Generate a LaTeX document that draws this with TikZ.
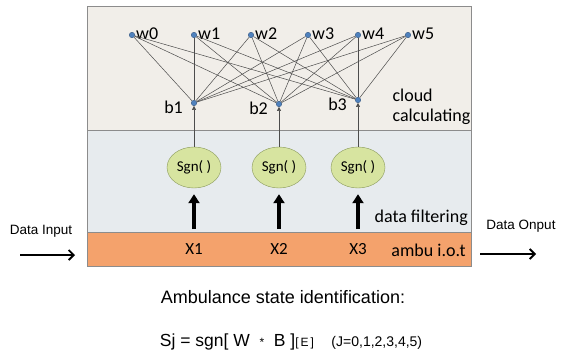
\documentclass[tikz,border=0pt]{standalone}
\usepackage{fontspec}
\setmainfont{Carlito}
\newfontfamily\arialfont{Liberation Sans}
\usetikzlibrary{arrows.meta,shapes.geometric}
\definecolor{CloudFill}{HTML}{F1EEE9}
\definecolor{FilterFill}{HTML}{E7EBEE}
\definecolor{IotFill}{HTML}{F4A26C}
\definecolor{SgnFill}{HTML}{D7E4A0}
\definecolor{SgnEdge}{HTML}{8A9A5B}
\definecolor{DotBlue}{HTML}{4F81BD}
\definecolor{FrameGray}{HTML}{8C8C8C}

\begin{document}
\begin{tikzpicture}[x=1pt,y=-1pt, every node/.style={font=\fontsize{18}{21}\selectfont},
  wdot/.style={circle, fill=DotBlue, draw=DotBlue!70!black, inner sep=0pt, minimum size=5.5pt},
  sgnnode/.style={ellipse, fill=SgnFill, draw=SgnEdge, minimum width=54pt, minimum height=41pt, inner sep=0pt, font=\fontsize{15}{17}\selectfont},
  link/.style={draw=black!70, line width=0.5pt},
  feed/.style={-{Triangle[length=9pt,width=11pt]}, line width=3.8pt},
  flow/.style={-{Straight Barb[length=5pt,width=10pt]}, line width=1.8pt}]
  \useasboundingbox (0,0) rectangle (563,356);
  \fill[white] (0,0) rectangle (563,356);
  % three layers
  \draw[FrameGray, fill=CloudFill] (87,6) rectangle (471,130);
  \draw[FrameGray, fill=FilterFill] (87,130) rectangle (471,232);
  \draw[FrameGray, fill=IotFill] (87,232) rectangle (471,266);
  % weights and biases
  \foreach \i/\x in {0/132,1/194,2/251,3/308,4/358,5/408} {
    \node[wdot] (w\i) at (\x,35) {};
    \node[anchor=west, inner sep=1pt, yshift=1pt] at (w\i.east) {w\i};
  }
  \foreach \j/\x/\y in {1/194/103,2/279/104,3/358/100} {
    \node[wdot] (b\j) at (\x,\y) {};
    \node[anchor=east, inner sep=1pt, xshift=-7pt, yshift=-4pt] at (b\j.west) {b\j};
  }
  \foreach \i in {0,...,5} \foreach \j in {1,2,3} \draw[link] (w\i) -- (b\j);
  \node[anchor=west] at (389,95) {cloud};
  \node[anchor=west] at (389,117) {calculating};
  % filters
  \foreach \j/\x in {1/194,2/279,3/358} {
    \node[sgnnode] (s\j) at (\x,167.5) {Sgn( )};
    \draw[link, -{Triangle[length=4pt,width=4pt]}] (s\j) -- (b\j);
    \node[font=\fontsize{17}{19}\selectfont] (x\j) at (\x,249) {X\j};
    \coordinate (t\j) at (\x,229);
    \draw[feed, shorten >=6pt] (t\j) -- (s\j);
  }
  \node[anchor=east, inner sep=2pt] at (470,218) {data filtering};
  \node[anchor=east, inner sep=2pt] at (468,250) {ambu i.o.t};
  % input and output
  \node[font=\arialfont\fontsize{13.5}{15}\selectfont] (din) at (41,231) {Data Input};
  \coordinate (din1) at (20,255);
  \coordinate (din2) at (75,255);
  \draw[flow] (din1) -- (din2);
  \node[font=\arialfont\fontsize{13.5}{15}\selectfont] (dout) at (521,226) {Data Onput};
  \coordinate (dout1) at (480,254);
  \coordinate (dout2) at (536,254);
  \draw[flow] (dout1) -- (dout2);
  % state identification
  \node[font=\arialfont\fontsize{18}{21}\selectfont] (title) at (283,297) {Ambulance state identification:};
  \node[font=\arialfont\fontsize{17.5}{20}\selectfont] (formula) at (291,342)
    {Sj = sgn[ W \;{\fontsize{12}{14}\selectfont*}\; B ]{\fontsize{12}{14}\selectfont[\,E\,]}\quad{\fontsize{14}{16}\selectfont(J=0,1,2,3,4,5)}};
\end{tikzpicture}
\end{document}
